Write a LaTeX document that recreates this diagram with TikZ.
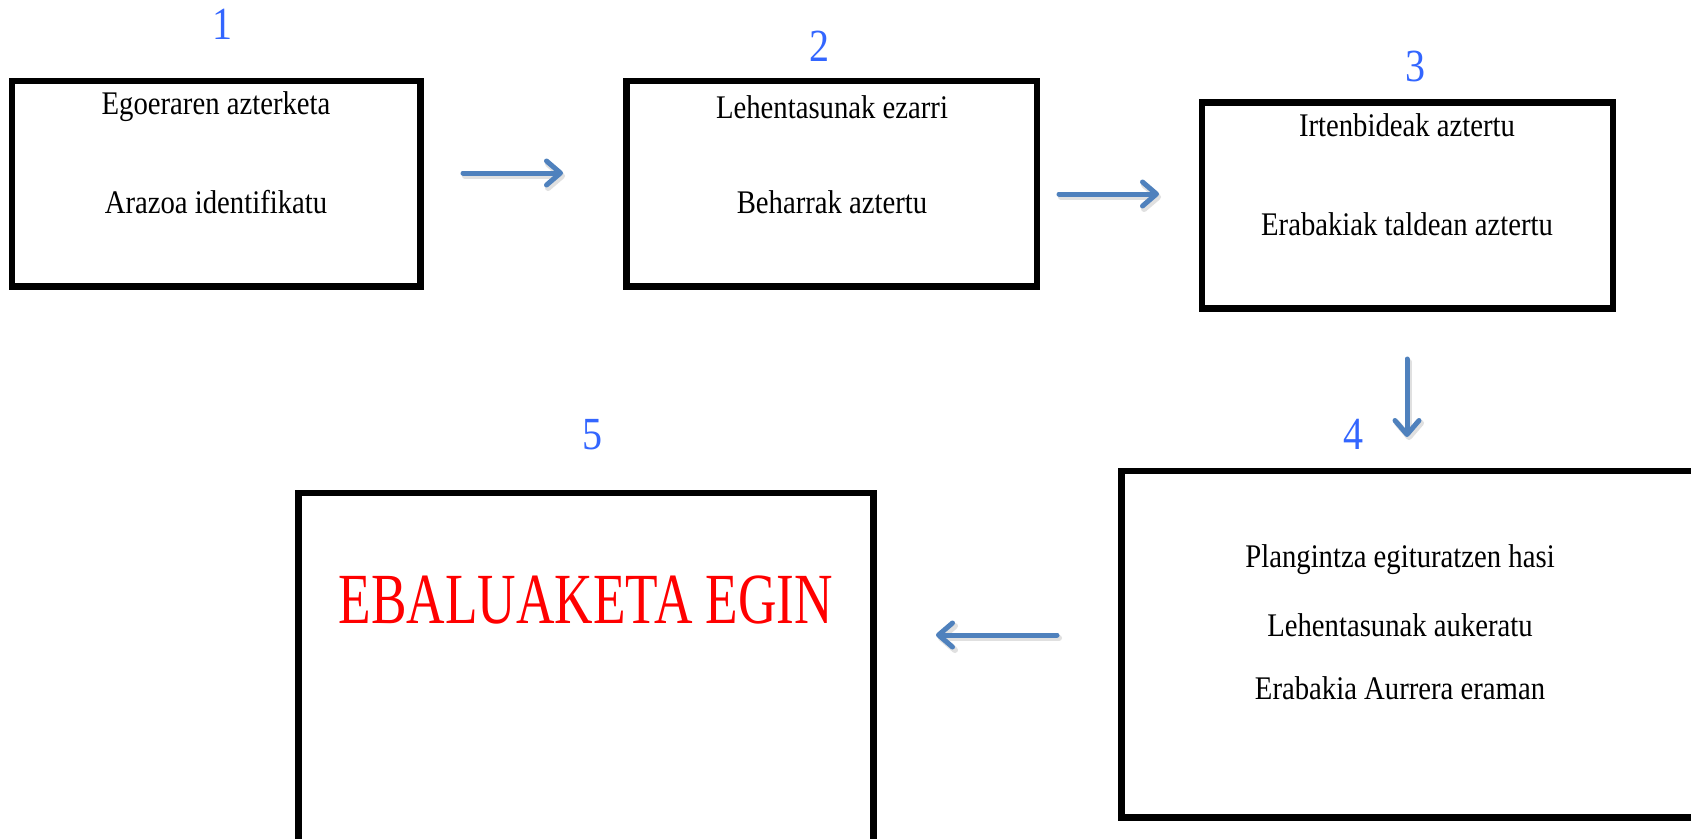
\documentclass[tikz,border=0pt]{standalone}
\usepackage{fontspec}
\setmainfont{Liberation Serif}[FakeStretch=0.87]
\newfontfamily\bigcond{Liberation Serif}[FakeStretch=0.74]
\usetikzlibrary{arrows.meta}
\definecolor{arrowblue}{HTML}{4F81BD}
\definecolor{numblue}{HTML}{3366FF}
\definecolor{redtxt}{HTML}{FF0000}
\tikzset{
  x=1pt,y=-1pt,
  boxline/.style={draw=black,line width=6.5pt},
  numlabel/.style={text=numblue,font=\fontsize{46}{50}\selectfont,inner sep=0pt},
  bodytext/.style={text=black,font=\fontsize{33}{40}\selectfont,inner sep=0pt},
  flow/.style={draw=arrowblue,line width=5pt,line cap=round,-{Straight Barb[length=14pt,width=24pt,line width=5pt,round]}},
  flowshadow/.style={draw=black!12,line width=6pt,line cap=round,-{Straight Barb[length=14pt,width=24pt,line width=6pt,round]}}
}
\begin{document}
\begin{tikzpicture}
\clip (0,0) rectangle (1691,838);
\fill[white] (0,0) rectangle (1691,838);
% boxes
\draw[boxline] (11.9,81) rectangle (420.6,286.3);
\draw[boxline] (626.5,81) rectangle (1037,286.3);
\draw[boxline] (1202,102.4) rectangle (1613,308.4);
\draw[boxline] (1121.5,471) rectangle (1720,817.4);
\draw[boxline] (298.7,492.8) rectangle (873.5,880);
% numbers
\node[numlabel] (n1) at (223,24) {1};
\node[numlabel] (n2) at (819.6,46.4) {2};
\node[numlabel] (n3) at (1415,66.9) {3};
\node[numlabel] (n4) at (1353,434.6) {4};
\node[numlabel] (n5) at (592,434.6) {5};
% texts
\node[bodytext] (t1a) at (216,107) {Egoeraren azterketa};
\node[bodytext] (t1b) at (216,202) {Arazoa identifikatu};
\node[bodytext] (t2a) at (832,107) {Lehentasunak ezarri};
\node[bodytext] (t2b) at (832,202) {Beharrak aztertu};
\node[bodytext] (t3a) at (1407,125) {Irtenbideak aztertu};
\node[bodytext] (t3b) at (1407,224) {Erabakiak taldean aztertu};
\node[bodytext] (t4a) at (1400,560) {Plangintza egituratzen hasi};
\node[bodytext] (t4b) at (1400,625) {Lehentasunak aukeratu};
\node[bodytext] (t4c) at (1400,688) {Erabakia Aurrera eraman};
\node[text=redtxt,font=\bigcond\fontsize{72}{80}\selectfont,inner sep=0pt] (t5) at (586,600) {EBALUAKETA EGIN};
% arrow end points
\coordinate (a1s) at (463,173);
\coordinate (a1e) at (563,173);
\coordinate (a2s) at (1059,194);
\coordinate (a2e) at (1159,194);
\coordinate (a3s) at (1407,359);
\coordinate (a3e) at (1407,437);
\coordinate (a4s) at (1057,635);
\coordinate (a4e) at (936,635);
\coordinate (a1ss) at (465,176);
\coordinate (a1es) at (565,176);
\coordinate (a2ss) at (1061,197);
\coordinate (a2es) at (1161,197);
\coordinate (a3ss) at (1409,362);
\coordinate (a3es) at (1409,440);
\coordinate (a4ss) at (1059,638);
\coordinate (a4es) at (938,638);
\draw[flowshadow] (a1ss) -- (a1es);
\draw[flowshadow] (a2ss) -- (a2es);
\draw[flowshadow] (a3ss) -- (a3es);
\draw[flowshadow] (a4ss) -- (a4es);
\draw[flow] (a1s) -- (a1e);
\draw[flow] (a2s) -- (a2e);
\draw[flow] (a3s) -- (a3e);
\draw[flow] (a4s) -- (a4e);
\end{tikzpicture}
\end{document}
